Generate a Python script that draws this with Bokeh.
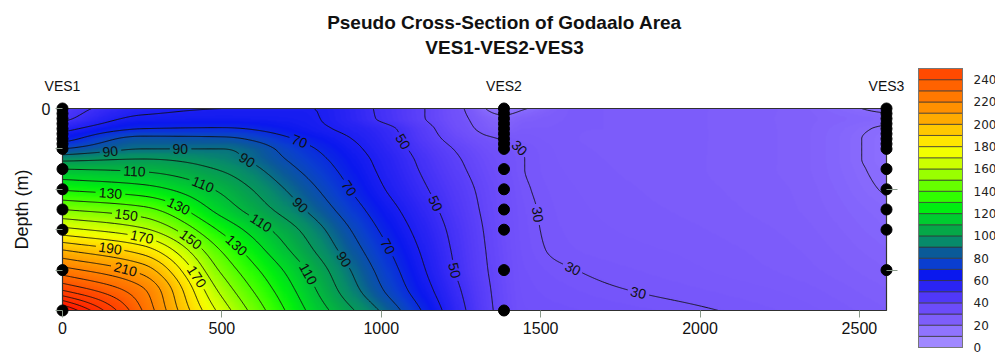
import numpy as np
import contourpy
from bokeh.plotting import figure
from bokeh.models import Range1d, FixedTicker, LinearColorMapper, LinearAxis
from bokeh.layouts import row
from bokeh.embed import file_html
from bokeh.resources import INLINE
from bokeh.core.properties import value

# ---------------- data ----------------
TITLE = "Pseudo Cross-Section of Godaalo Area"
SUBTITLE = "VES1-VES2-VES3"
Y_LABEL = "Depth (m)"

stations = ["VES1", "VES2", "VES3"]
station_x = [0, 1385, 2585]
ves1_depths = [0, 2.5, 5, 7.5, 10, 12.5, 15, 17.5, 20, 30, 40, 50, 60, 80, 100]
ves2_depths = [0, 2.5, 5, 7.5, 10, 12.5, 15, 17.5, 20, 30, 40, 50, 60, 80, 100]
ves3_depths = [0, 2.5, 5, 7.5, 10, 12.5, 15, 17.5, 20, 30, 40, 50, 60, 80]

depth_nodes = [0, 5, 10, 15, 20, 25, 30, 40, 50, 60, 70, 80, 90, 100]
x_nodes = [0, 250, 500, 750, 1000, 1250, 1385, 1450, 1600, 2000, 2300, 2585]
rho_x0 = [45, 48, 57, 66, 80, 97, 110, 129, 150, 173, 200, 224, 250, 292]
rho_x250 = [57, 62, 70, 83, 90, 100, 108, 124, 143, 162, 185, 206, 222, 230]
rho_x500 = [60, 63, 71, 82, 90, 94, 99, 108, 116, 128, 139, 148, 157, 166]
rho_x750 = [60.5, 61.5, 63.5, 68.5, 73, 76, 79, 85, 91, 99, 105, 112, 117, 122]
rho_x1000 = [48.5, 49, 53, 54.5, 56, 57.5, 58.5, 61, 65, 69, 73, 77, 81, 89]
rho_x1250 = [31, 32, 33.5, 36, 38.5, 40, 41, 43, 44.5, 46, 47, 48, 50, 52]
rho_x1385 = [15, 22, 25, 29.5, 31.5, 32.5, 33, 34, 34.5, 35, 35.5, 36, 36.5, 37]
rho_x1450 = [19.5, 25, 27, 28.5, 29.7, 30, 30, 30.5, 31, 31.2, 31.5, 32, 32.5, 33]
rho_x1600 = [27, 27, 27, 27, 27.2, 27.4, 27.6, 28, 28.3, 28.6, 29, 30.1, 31, 32]
rho_x2000 = [26, 26, 26, 26, 26, 26, 26, 26.2, 26.5, 27, 27.5, 28, 29, 30.3]
rho_x2300 = [24.5, 24.5, 24.5, 24.5, 24.5, 24.5, 24.5, 24.8, 25, 25.5, 26, 26.5, 27.5, 28.5]
rho_x2585 = [18, 21.5, 19, 18, 18, 18, 18.5, 19.5, 21, 22, 23, 24, 25, 26]

x_ticks = [0, 500, 1000, 1500, 2000, 2500]
depth_ticks = [0, 20, 40, 60, 80, 100]
depth_labelled = [0]
right_ticks = [40, 80]
contour_levels = list(range(10, 300, 10))
labelled_levels = list(range(30, 220, 20))
cbar_levels = list(range(0, 260, 10))
cbar_ticks = list(range(0, 250, 20))
cbar_colors = ["#A088FF", "#9074FF", "#7E5EFA", "#6C4CFA", "#5038F8", "#2A24F4",
               "#0A18EE", "#0A3ED0", "#0A5A98", "#078A6A", "#05A848", "#00CC30",
               "#00EE10", "#30FF00", "#66FF00", "#99FF00", "#CCFF00", "#F2FF00",
               "#FFE600", "#FFC800", "#FFAA00", "#FF9000", "#FF7800", "#FF6200",
               "#FF4A00"]
hot_stops = [(270, "#FF2A00"), (300, "#FF0000")]

# ---------------- layout (pixels) ----------------
WIN_W, WIN_H = 995, 354
MAIN_W = 912
IMG_LEFT, IMG_TOP, IMG_W, IMG_H = 62, 108, 824, 202
TITLE_CX, TITLE_Y1, TITLE_Y2, VES_Y = 504, 22, 47, 85
TICK_LEN, RTICK_LEN = 7, 11
CB_LEFT, CB_W_PX, CB_TOP, CB_BOTTOM = 6, 44, 68, 347
FONT = "Liberation Sans"
FONT_CB = "DejaVu Sans"
TICK_C = "#8a9a8a"

x0, x1 = x_nodes[0], x_nodes[-1]
d0, d1 = depth_nodes[0], depth_nodes[-1]
sx = IMG_W / (x1 - x0)
sy = IMG_H / (d1 - d0)


def X(px):
    return x0 + (px - IMG_LEFT) / sx


def Y(py):
    return -(d0 + (py - IMG_TOP) / sy)


def pchip(xn, yn, xq):
    xn = np.asarray(xn, float)
    yn = np.asarray(yn, float)
    xq = np.asarray(xq, float)
    h = np.diff(xn)
    d = np.diff(yn, axis=0) / h[:, None]
    m = np.zeros_like(yn)
    w1 = (2 * h[1:] + h[:-1])[:, None]
    w2 = (h[1:] + 2 * h[:-1])[:, None]
    da, db = d[:-1], d[1:]
    same = (da * db) > 0
    with np.errstate(divide="ignore", invalid="ignore"):
        mi = (w1 + w2) / (w1 / da + w2 / db)
    m[1:-1] = np.where(same, mi, 0.0)
    m[0] = d[0]
    m[-1] = d[-1]
    i = np.clip(np.searchsorted(xn, xq, side="right") - 1, 0, len(xn) - 2)
    hh = (xn[i + 1] - xn[i])[:, None]
    t = ((xq - xn[i]) / (xn[i + 1] - xn[i]))[:, None]
    h00 = 2 * t ** 3 - 3 * t ** 2 + 1
    h10 = t ** 3 - 2 * t ** 2 + t
    h01 = -2 * t ** 3 + 3 * t ** 2
    h11 = t ** 3 - t ** 2
    return h00 * yn[i] + h10 * hh * m[i] + h01 * yn[i + 1] + h11 * hh * m[i + 1]


columns = [rho_x0, rho_x250, rho_x500, rho_x750, rho_x1000, rho_x1250, rho_x1385,
           rho_x1450, rho_x1600, rho_x2000, rho_x2300, rho_x2585]
T = np.array(columns, float).T
nd, nx = 240, 800
d_f = np.linspace(d0, d1, nd)
x_f = np.linspace(x0, x1, nx)
A = pchip(depth_nodes, T, d_f)
Z = pchip(x_nodes, A.T, x_f).T
yp = -d_f[::-1]
Zp = np.ascontiguousarray(Z[::-1])


def hex2rgb(hx):
    hx = hx.lstrip("#")
    return np.array([int(hx[k:k + 2], 16) for k in (0, 2, 4)], float)


stop_v = [cbar_levels[0]] + [(a + b) / 2 for a, b in zip(cbar_levels[:-1], cbar_levels[1:])] + [v for v, _ in hot_stops]
stop_c = [cbar_colors[0]] + cbar_colors + [c for _, c in hot_stops]
rgb = np.array([hex2rgb(c) for c in stop_c])
vals = np.linspace(0, hot_stops[-1][0], 301)
palette = []
for v in vals:
    r, g, b = (np.interp(v, stop_v, rgb[:, k]) for k in range(3))
    palette.append("#%02x%02x%02x" % (int(round(r)), int(round(g)), int(round(b))))
mapper = LinearColorMapper(palette=palette, low=0, high=hot_stops[-1][0])

# dots
dot_x, dot_y = [], []
for sxv, dl in zip(station_x, [ves1_depths, ves2_depths, ves3_depths]):
    dot_x += [sxv] * len(dl)
    dot_y += [-d for d in dl]
dot_px = (np.array(dot_x) - x0) * sx
dot_py = (-np.array(dot_y) - d0) * sy

# ---------------- contours + labels ----------------
X2, Y2 = np.meshgrid(x_f, yp)
gen = contourpy.contour_generator(x=X2, y=Y2, z=Zp)
lines_by_level = {}
all_px, all_py, all_lv = [], [], []
for lev in contour_levels:
    pix = []
    for s in gen.lines(lev):
        if len(s) < 2:
            continue
        px = (s[:, 0] - x0) * sx
        py = (-s[:, 1] - d0) * sy
        if py[0] > py[-1]:
            px, py = px[::-1], py[::-1]
        pix.append((px, py))
        all_px.append(px); all_py.append(py); all_lv.append(np.full(len(px), lev))
    lines_by_level[lev] = pix
all_px = np.concatenate(all_px); all_py = np.concatenate(all_py); all_lv = np.concatenate(all_lv)


def half_w(lev):
    return len(str(lev)) * 3.9 + 2.5


placed = []
lab_x, lab_y, lab_t, lab_a = [], [], [], []
seg_xs, seg_ys = [], []
for lev in contour_levels:
    others = all_lv != lev
    ox, oy = all_px[others], all_py[others]
    for px, py in lines_by_level[lev]:
        ds = np.hypot(np.diff(px), np.diff(py))
        s = np.concatenate([[0.0], np.cumsum(ds)])
        L = s[-1]
        cuts = []
        if lev in labelled_levels and L > 60:
            sk = 48.0
            while sk < L - 25:
                cx = np.interp(sk, s, px); cy = np.interp(sk, s, py)
                ok = (10 < cx < IMG_W - 10) and (30 < cy < IMG_H - 9)
                if ok:
                    ok = np.min(np.hypot(dot_px - cx, dot_py - cy)) > 14
                if ok and placed:
                    pp = np.array(placed)
                    ok = np.min(np.hypot(pp[:, 0] - cx, pp[:, 1] - cy)) > 26
                if ok and len(ox):
                    ok = np.min(np.hypot(ox - cx, oy - cy)) > 6.5
                if ok:
                    ax = np.interp(sk + 6, s, px) - np.interp(sk - 6, s, px)
                    ay = np.interp(sk + 6, s, py) - np.interp(sk - 6, s, py)
                    ang = np.arctan2(-ay, ax)
                    while ang > np.pi / 2:
                        ang -= np.pi
                    while ang < -np.pi / 2:
                        ang += np.pi
                    placed.append((cx, cy))
                    cuts.append(sk)
                    lab_x.append(x0 + cx / sx); lab_y.append(-(d0 + cy / sy))
                    lab_t.append(str(lev)); lab_a.append(float(ang))
                    sk += 70
                else:
                    sk += 8
        keep = np.ones(len(s), bool)
        for c in cuts:
            keep &= np.abs(s - c) > half_w(lev)
        idx = np.flatnonzero(keep)
        if len(idx) == 0:
            continue
        breaks = np.flatnonzero(np.diff(idx) > 1)
        starts = np.concatenate([[0], breaks + 1]); ends = np.concatenate([breaks + 1, [len(idx)]])
        for a, b in zip(starts, ends):
            run = idx[a:b]
            if len(run) >= 2:
                seg_xs.append(list(x0 + px[run] / sx))
                seg_ys.append(list(-(d0 + py[run] / sy)))

# ---------------- main figure (frame = whole panel, axes at fixed locations) ----------------
p = figure(width=MAIN_W, height=WIN_H, output_backend="svg", toolbar_location=None, title=None,
           x_range=Range1d(X(0), X(MAIN_W)), y_range=Range1d(Y(WIN_H), Y(0)),
           min_border_left=0, min_border_right=0, min_border_top=0, min_border_bottom=0)
p.outline_line_color = None
p.grid.visible = False

p.image(image=[Zp], x=x0, y=-d1, dw=x1 - x0, dh=d1 - d0, color_mapper=mapper)
p.multi_line(xs=seg_xs, ys=seg_ys, line_color="#101010", line_width=1.0, line_alpha=0.9)
p.quad(left=[x0], right=[x1], bottom=[-d1], top=[-d0], fill_color=None,
       line_color="#303030", line_width=1.2)
p.text(x=lab_x, y=lab_y, text=lab_t, angle=lab_a, text_align="center", text_baseline="middle",
       text_font=value(FONT), text_font_size="14px", text_color="#101010")
p.scatter(x=dot_x, y=dot_y, size=11, fill_color="black", line_color="black")

# titles and station names
p.text(x=[X(TITLE_CX)] * 2, y=[Y(TITLE_Y1), Y(TITLE_Y2)], text=[TITLE, SUBTITLE],
       text_align="center", text_baseline="middle", text_font=value(FONT), text_font_size="19px",
       text_font_style="bold", text_color="#111111")
p.text(x=station_x, y=[Y(VES_Y)] * len(stations), text=stations, text_align="center",
       text_baseline="middle", text_font=value(FONT), text_font_size="14px", text_color="#111111")

# distance axis along the bottom of the section
xa = p.xaxis[0]
xa.fixed_location = -d1
xa.bounds = (x0, x1)
xa.ticker = FixedTicker(ticks=x_ticks, minor_ticks=[])
xa.axis_line_color = None
xa.major_tick_line_color = TICK_C
xa.major_tick_in = 0
xa.major_tick_out = TICK_LEN
xa.minor_tick_line_color = None
xa.major_label_standoff = 4
xa.major_label_text_font = FONT
xa.major_label_text_font_size = "16px"
xa.major_label_text_color = "#111111"

# depth axis along the left of the section
ya = p.yaxis[0]
ya.fixed_location = x0
ya.bounds = (-d1, -d0)
ya.ticker = FixedTicker(ticks=[-d for d in depth_labelled],
                        minor_ticks=[-d for d in depth_ticks if d not in depth_labelled])
ya.axis_line_color = None
ya.major_tick_line_color = TICK_C
ya.minor_tick_line_color = TICK_C
ya.major_tick_in = 0
ya.major_tick_out = TICK_LEN
ya.minor_tick_in = 0
ya.minor_tick_out = TICK_LEN
ya.major_label_standoff = 5
ya.major_label_text_font = FONT
ya.major_label_text_font_size = "16px"
ya.major_label_text_color = "#111111"
ya.axis_label = Y_LABEL
ya.axis_label_text_font = FONT
ya.axis_label_text_font_size = "18px"
ya.axis_label_text_font_style = "normal"
ya.axis_label_text_color = "#111111"
ya.axis_label_standoff = 7

rax = LinearAxis(fixed_location=x1, ticker=FixedTicker(ticks=[], minor_ticks=[-d for d in right_ticks]),
                 axis_line_color=None, major_tick_line_color=None,
                 minor_tick_line_color=TICK_C, minor_tick_in=0, minor_tick_out=RTICK_LEN)
p.add_layout(rax, "right")

# ---------------- colour bar figure ----------------
CB_W = WIN_W - MAIN_W
k = (CB_BOTTOM - CB_TOP) / (cbar_levels[-1] - cbar_levels[0])
cb = figure(width=CB_W, height=WIN_H, output_backend="svg", toolbar_location=None, title=None,
            x_range=Range1d(-CB_LEFT / CB_W_PX, 1 + (CB_W - CB_LEFT - CB_W_PX) / CB_W_PX),
            y_range=Range1d(cbar_levels[0] - (WIN_H - CB_BOTTOM) / k, cbar_levels[-1] + CB_TOP / k),
            min_border_left=0, min_border_right=0, min_border_top=0, min_border_bottom=0,
            x_axis_location=None, y_axis_location="right")
cb.grid.visible = False
cb.outline_line_color = None
cb.quad(left=0, right=1, bottom=cbar_levels[:-1], top=cbar_levels[1:], fill_color=cbar_colors,
        line_color="#333333", line_width=0.7)
cb.quad(left=[0], right=[1], bottom=[cbar_levels[0]], top=[cbar_levels[-1]], fill_color=None,
        line_color="#777777", line_width=1)
cya = cb.yaxis[0]
cya.fixed_location = 1
cya.bounds = (cbar_levels[0], cbar_levels[-1])
cya.ticker = FixedTicker(ticks=cbar_ticks, minor_ticks=[])
cya.axis_line_color = None
cya.major_tick_line_color = None
cya.minor_tick_line_color = None
cya.major_label_standoff = 5
cya.major_label_text_font = FONT_CB
cya.major_label_text_font_size = "12px"
cya.major_label_text_color = "#222222"

layout = row(p, cb, spacing=0)
open("out.html", "w").write(file_html(layout, INLINE))
